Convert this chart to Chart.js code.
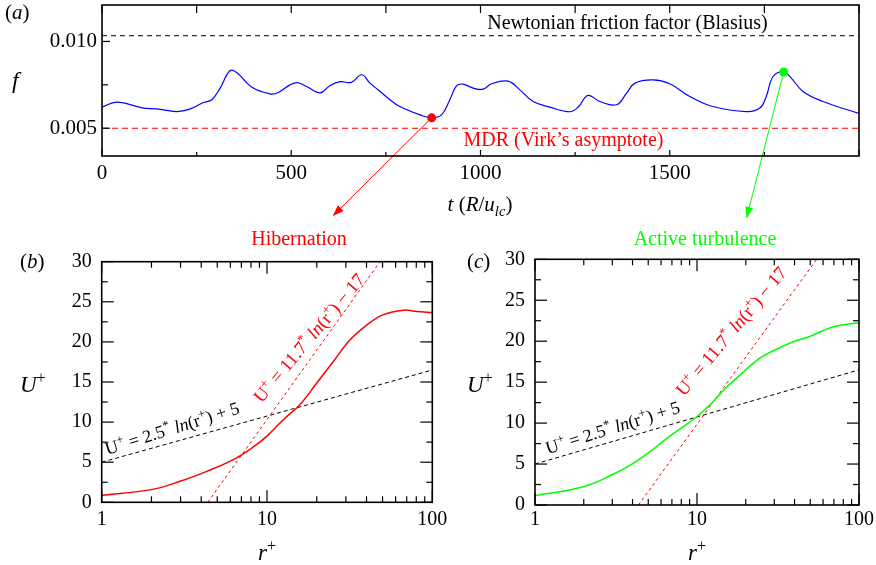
<!DOCTYPE html>
<html><head><meta charset="utf-8">
<script src="https://cdn.jsdelivr.net/npm/chart.js@4.4.1/dist/chart.umd.min.js"></script>
<style>
html,body{margin:0;padding:0;background:#fff;}
#wrap{position:relative;width:876px;height:565px;background:#fff;overflow:hidden;}
canvas{position:absolute;display:block;}
</style></head><body>
<div id="wrap">
<canvas id="ca" width="876" height="250" style="left:0;top:0"></canvas>
<canvas id="cb" width="470" height="315" style="left:0;top:250px"></canvas>
<canvas id="cc" width="436" height="315" style="left:440px;top:250px"></canvas>
</div>
<script>
// ---------- DATA ----------
// Panel (a): friction factor vs time
const tValues = [0, 39, 109, 144, 197, 232, 268, 290, 312, 338, 356, 395, 444, 466, 497, 518, 541, 576, 602, 629, 659, 686, 708, 730, 761, 787, 840, 871, 897, 919, 937, 954, 981, 1007, 1029, 1073, 1104, 1139, 1183, 1236, 1258, 1284, 1315, 1359, 1386, 1408, 1456, 1500, 1553, 1614, 1703, 1738, 1755, 1773, 1801, 1821, 1852, 1905, 2000];
const fValues = [0.00622, 0.00650, 0.00616, 0.00612, 0.00596, 0.00610, 0.00648, 0.00664, 0.00731, 0.00831, 0.00821, 0.00737, 0.00698, 0.00706, 0.00750, 0.00762, 0.00740, 0.00704, 0.00745, 0.00768, 0.00764, 0.00808, 0.00760, 0.00720, 0.00664, 0.00625, 0.00577, 0.00560, 0.00577, 0.00664, 0.00745, 0.00754, 0.00731, 0.00725, 0.00756, 0.00771, 0.00721, 0.00654, 0.00622, 0.00595, 0.00622, 0.00689, 0.00654, 0.00635, 0.00702, 0.00760, 0.00779, 0.00756, 0.00683, 0.00625, 0.00596, 0.00616, 0.00683, 0.00798, 0.00824, 0.00789, 0.00712, 0.00654, 0.00585];
const tRange = [0, 2000];
const blasiusF = 0.01033;
const mdrF = 0.005;
const hibernationPoint = [871, 0.00560];
const activePoint = [1801, 0.00824];
const hibernationArrowEnd = [610, -0.00005];
const activeArrowEnd = [1703, -0.00017];
const xTicksA = [0, 500, 1000, 1500, 2000];
const xTickLabelsA = ['0', '500', '1000', '1500', ''];
const xMinorA = [250, 750, 1250, 1750];
const yTicksA = [0.005, 0.010];
const yTickLabelsA = ['0.005', '0.010'];
const yMinorA = [0.0075];

// Panel (b): hibernation profile
const rB = [1, 2.0, 2.98, 4.32, 6.25, 8.27, 9.96, 12.55, 15.8, 20.0, 25.2, 31.8, 40.1, 50.6, 66.8, 80.5, 100];
const uB = [0.87, 1.58, 2.62, 3.86, 5.32, 6.90, 8.22, 10.3, 12.17, 14.87, 17.56, 20.26, 22.1, 23.4, 23.96, 23.8, 23.66];
// Panel (c): active turbulence profile
const rC = [1, 1.99, 2.97, 4.04, 5.13, 6.50, 8.24, 9.96, 12.0, 15, 20, 24.5, 30, 40, 50, 69.5, 100];
const uC = [1.14, 2.24, 3.66, 5.09, 6.51, 8.14, 9.56, 10.78, 12.2, 14.25, 16.5, 17.95, 18.9, 20.0, 20.6, 21.77, 22.26];
// reference lines (end points)
const logLawR = [1, 100];
const logLawU = [5.0, 16.5];
const mdrLineRB = [4.38, 48.3];
const mdrLineRC = [4.35, 54.8];
const mdrLineU = [0, 30];
const xTicksLog = [1, 10, 100];
const xTickLabelsLog = ['1', '10', '100'];
const xMinorLog = [2, 3, 4, 5, 6, 7, 8, 9, 20, 30, 40, 50, 60, 70, 80, 90];
const yTicksU = [0, 5, 10, 15, 20, 25, 30];
const yTickLabelsU = ['0', '5', '10', '15', '20', '25', '30'];
const yMinorU = [2.5, 7.5, 12.5, 17.5, 22.5, 27.5];

// ---------- helpers ----------
const FONT = '"Liberation Serif", "Times New Roman", serif';
const RED = '#ff0000', GREEN = '#00ff00', BLUE = '#0000ff';
Chart.defaults.color = '#000';
Chart.defaults.font.family = FONT;

function pts(xs, ys) { return xs.map((x, i) => ({x: x, y: ys[i]})); }
function segFont(s, size) { return (s.i ? 'italic ' : '') + size + 'px ' + FONT; }
function drawRich(ctx, it, x, y) {
  const size = it.size;
  const parts = it.segs.map(s => {
    const sz = (s.sup || s.sub) ? size * 0.7 : size;
    ctx.font = segFont(s, sz);
    return {s: s, sz: sz, w: ctx.measureText(s.t).width};
  });
  const total = parts.reduce((a, p) => a + p.w, 0);
  ctx.save();
  ctx.translate(x, y);
  if (it.rot) ctx.rotate(it.rot * Math.PI / 180);
  let x0 = it.align === 'center' ? -total / 2 : (it.align === 'right' ? -total : 0);
  ctx.fillStyle = it.color || '#000';
  ctx.textBaseline = 'alphabetic';
  ctx.textAlign = 'left';
  for (const p of parts) {
    ctx.font = segFont(p.s, p.sz);
    const dy = p.s.sup ? -size * 0.38 : (p.s.sub ? size * 0.22 : 0);
    ctx.fillText(p.s.t, x0, dy);
    x0 += p.w;
  }
  ctx.restore();
}

function decor(cfg) {
  return {
    id: 'decor',
    beforeDatasetsDraw(chart) {
      const ctx = chart.ctx, sx = chart.scales.x, sy = chart.scales.y;
      (cfg.arrows || []).forEach(a => {
        const x1 = sx.getPixelForValue(a.from[0]), y1 = sy.getPixelForValue(a.from[1]);
        const x2 = sx.getPixelForValue(a.to[0]), y2 = sy.getPixelForValue(a.to[1]);
        ctx.save();
        ctx.strokeStyle = a.color; ctx.fillStyle = a.color; ctx.lineWidth = 1;
        ctx.beginPath(); ctx.moveTo(x1, y1); ctx.lineTo(x2, y2); ctx.stroke();
        const ang = Math.atan2(y2 - y1, x2 - x1), L = 11, W = 4;
        ctx.beginPath();
        ctx.moveTo(x2, y2);
        ctx.lineTo(x2 - L * Math.cos(ang) + W * Math.sin(ang), y2 - L * Math.sin(ang) - W * Math.cos(ang));
        ctx.lineTo(x2 - L * Math.cos(ang) - W * Math.sin(ang), y2 - L * Math.sin(ang) + W * Math.cos(ang));
        ctx.closePath(); ctx.fill();
        ctx.restore();
      });
    },
    afterDraw(chart) {
      const ctx = chart.ctx, a = chart.chartArea, sx = chart.scales.x, sy = chart.scales.y;
      ctx.save();
      ctx.strokeStyle = '#000';
      ctx.lineWidth = 1.2;
      const tick = (vals, len, axis, side) => {
        vals.forEach(v => {
          ctx.beginPath();
          if (axis === 'x') {
            const p = sx.getPixelForValue(v);
            if (side === 'bottom') { ctx.moveTo(p, a.bottom); ctx.lineTo(p, a.bottom - len); }
            else { ctx.moveTo(p, a.top); ctx.lineTo(p, a.top + len); }
          } else {
            const p = sy.getPixelForValue(v);
            if (side === 'left') { ctx.moveTo(a.left, p); ctx.lineTo(a.left + len, p); }
            else { ctx.moveTo(a.right, p); ctx.lineTo(a.right - len, p); }
          }
          ctx.stroke();
        });
      };
      (cfg.ticks || []).forEach(t => tick(t.vals, t.len, t.axis, t.side));
      ctx.lineWidth = 1.6;
      ctx.strokeRect(a.left, a.top, a.right - a.left, a.bottom - a.top);
      ctx.restore();
      (cfg.texts || []).forEach(it => {
        let x = it.x, y = it.y;
        if (it.data) { x = sx.getPixelForValue(it.data[0]); y = sy.getPixelForValue(it.data[1]); }
        drawRich(ctx, it, x, y);
      });
    }
  };
}

function fixSize(s, w, h) {
  if (w !== null) s.width = w;
  if (h !== null) s.height = h;
  s.paddingLeft = 0; s.paddingRight = 0; s.paddingTop = 0; s.paddingBottom = 0;
}

function scaleOpts(fontSize, pad, ticks, labels, extra) {
  return Object.assign({
    grid: {display: false, drawTicks: false},
    border: {display: false},
    ticks: {font: {family: FONT, size: fontSize}, color: '#000', padding: pad, autoSkip: false, maxRotation: 0, minRotation: 0,
      callback: (v, i) => labels[i]},
    afterBuildTicks: s => { s.ticks = ticks.map(v => ({value: v})); }
  }, extra);
}

// ---------- Panel (a) ----------
new Chart(document.getElementById('ca'), {
  type: 'line',
  data: {
    datasets: [
      {data: [{x: hibernationPoint[0], y: hibernationPoint[1]}], showLine: false, pointRadius: 4.5, pointBackgroundColor: RED, pointBorderColor: RED, pointBorderWidth: 0},
      {data: [{x: activePoint[0], y: activePoint[1]}], showLine: false, pointRadius: 4.5, pointBackgroundColor: GREEN, pointBorderColor: GREEN, pointBorderWidth: 0},
      {data: pts(tValues, fValues), borderColor: BLUE, borderWidth: 1.2, pointRadius: 0, fill: false, tension: 0.4},
      {data: pts(tRange, [blasiusF, blasiusF]), borderColor: '#000', borderWidth: 1, borderDash: [5, 4], pointRadius: 0, fill: false},
      {data: pts(tRange, [mdrF, mdrF]), borderColor: RED, borderWidth: 1.2, borderDash: [6, 4], pointRadius: 0, fill: false}
    ]
  },
  options: {
    responsive: false, animation: false,
    layout: {padding: {left: 0, top: 5, right: 17, bottom: 0}},
    plugins: {legend: {display: false}, tooltip: {enabled: false}},
    scales: {
      x: scaleOpts(21, 4.4, xTicksA, xTickLabelsA, {type: 'linear', min: tRange[0], max: tRange[1],
        afterFit: s => fixSize(s, null, 94)}),
      y: scaleOpts(21, 5, yTicksA, yTickLabelsA, {type: 'linear', min: 0.0034, max: 0.0121,
        afterFit: s => fixSize(s, 102, null)})
    }
  },
  plugins: [decor({
    arrows: [
      {from: hibernationPoint, to: hibernationArrowEnd, color: RED},
      {from: activePoint, to: activeArrowEnd, color: GREEN}
    ],
    ticks: [
      {vals: xTicksA, len: 8, axis: 'x', side: 'top'},
      {vals: xMinorA, len: 8, axis: 'x', side: 'top'},
      {vals: xTicksA, len: 6, axis: 'x', side: 'bottom'},
      {vals: xMinorA, len: 4, axis: 'x', side: 'bottom'},
      {vals: yTicksA, len: 8, axis: 'y', side: 'left'},
      {vals: yMinorA, len: 6, axis: 'y', side: 'left'}
    ],
    texts: [
      {x: 5, y: 19, size: 21, segs: [{t: '('}, {t: 'a', i: true}, {t: ')'}]},
      {x: 12, y: 88, size: 24, segs: [{t: 'f', i: true}]},
      {x: 627.5, y: 29, size: 20, align: 'center', segs: [{t: 'Newtonian friction factor (Blasius)'}]},
      {x: 563.5, y: 146, size: 20, align: 'center', color: RED, segs: [{t: 'MDR (Virk\u2019s asymptote)'}]},
      {x: 480, y: 211, size: 21, align: 'center', segs: [{t: 't', i: true}, {t: ' ('}, {t: 'R', i: true}, {t: '/'}, {t: 'u', i: true}, {t: 'lc', i: true, sub: true}, {t: ')'}]},
      {x: 299, y: 245, size: 20, align: 'center', color: RED, segs: [{t: 'Hibernation'}]},
      {x: 705, y: 245, size: 20, align: 'center', color: GREEN, segs: [{t: 'Active turbulence'}]}
    ]
  })]
});

// ---------- Panels (b) and (c) ----------
function profileChart(id, r, u, color, mdrR, geom, label, eqPos) {
  new Chart(document.getElementById(id), {
    type: 'line',
    data: {
      datasets: [
        {data: pts(r, u), borderColor: color, borderWidth: 1.5, pointRadius: 0, fill: false, tension: 0.4},
        {data: pts(logLawR, logLawU), borderColor: '#000', borderWidth: 1, borderDash: [4, 3], pointRadius: 0, fill: false},
        {data: pts(mdrR, mdrLineU), borderColor: RED, borderWidth: 1, borderDash: [3, 3], pointRadius: 0, fill: false}
      ]
    },
    options: {
      responsive: false, animation: false,
      layout: {padding: {left: 0, top: geom.top, right: geom.right, bottom: 0}},
      plugins: {legend: {display: false}, tooltip: {enabled: false}},
      scales: {
        x: scaleOpts(20, geom.xpad, xTicksLog, xTickLabelsLog, {type: 'logarithmic', min: 1, max: 100,
          afterFit: s => fixSize(s, null, geom.xh)}),
        y: scaleOpts(20, 10, yTicksU, yTickLabelsU, {type: 'linear', min: 0, max: 30,
          afterFit: s => fixSize(s, geom.yw, null)})
      }
    },
    plugins: [decor({
      ticks: [
        {vals: xTicksLog, len: 12, axis: 'x', side: 'bottom'},
        {vals: xMinorLog, len: 6, axis: 'x', side: 'bottom'},
        {vals: xTicksLog, len: 12, axis: 'x', side: 'top'},
        {vals: xMinorLog, len: 6, axis: 'x', side: 'top'},
        {vals: yTicksU, len: 12, axis: 'y', side: 'left'},
        {vals: yMinorU, len: 6, axis: 'y', side: 'left'},
        {vals: yTicksU, len: 12, axis: 'y', side: 'right'},
        {vals: yMinorU, len: 6, axis: 'y', side: 'right'}
      ],
      texts: [
        {x: geom.lx, y: 18, size: 21, segs: [{t: '('}, {t: label, i: true}, {t: ')'}]},
        {x: geom.lx, y: 142, size: 23, segs: [{t: 'U', i: true}, {t: '+', sup: true}]},
        {x: geom.rx, y: 310, size: 23, align: 'center', segs: [{t: 'r', i: true}, {t: '+', sup: true}]},
        {data: eqPos.black, size: 18, rot: -17.5, segs: [{t: 'U'}, {t: '+', sup: true}, {t: ' = 2.5'}, {t: '*', sup: true}, {t: ' '}, {t: 'ln', i: true}, {t: '(r'}, {t: '+', sup: true}, {t: ') + 5'}]},
        {data: eqPos.red, size: 18.5, rot: -50, color: RED, segs: [{t: 'U'}, {t: '+', sup: true}, {t: ' = 11.7'}, {t: '*', sup: true}, {t: ' '}, {t: 'ln', i: true}, {t: '(r'}, {t: '+', sup: true}, {t: ') \u2212 17'}]}
      ]
    })]
  });
}

profileChart('cb', rB, uB, RED, mdrLineRB,
  {top: 11.7, right: 37.7, xh: 62.7, yw: 101.7, xpad: 5.7, lx: 20, rx: 267},
  'b', {black: [1.08, 5.9], red: [9.3, 12.3]});
profileChart('cc', rC, uC, GREEN, mdrLineRC,
  {top: 9.3, right: 17, xh: 60, yw: 95, xpad: 3, lx: 27, rx: 257},
  'c', {black: [1.2, 6.2], red: [8.3, 13.2]});
</script>
</body></html>
